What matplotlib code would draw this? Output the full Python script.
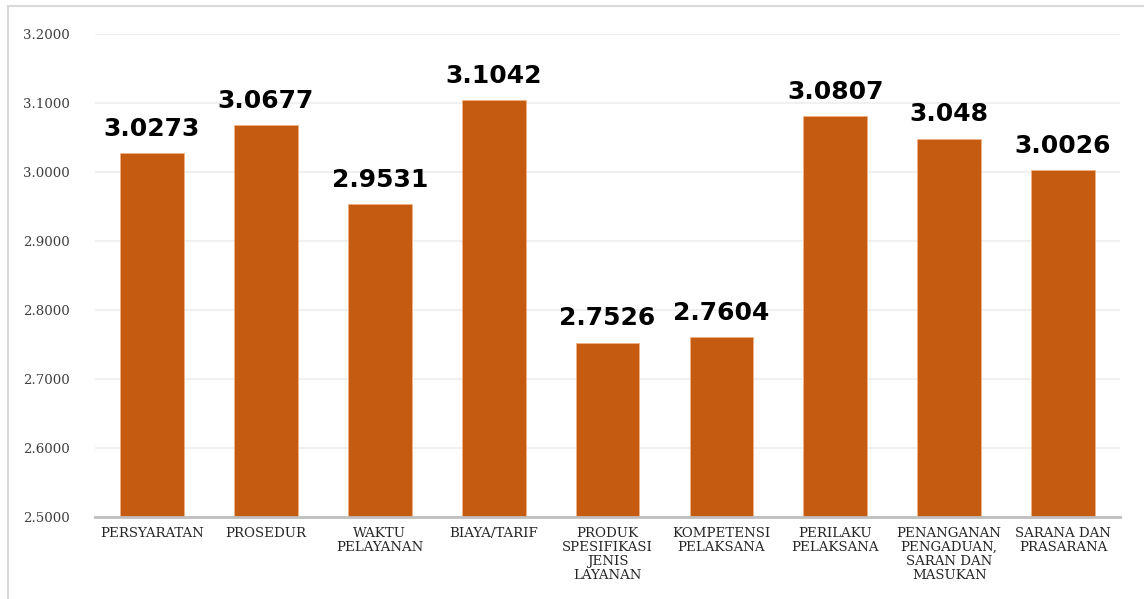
import matplotlib
matplotlib.use("Agg")
import matplotlib.pyplot as plt
from matplotlib.lines import Line2D

categories = ["PERSYARATAN", "PROSEDUR", "WAKTU\nPELAYANAN", "BIAYA/TARIF",
              "PRODUK\nSPESIFIKASI\nJENIS\nLAYANAN", "KOMPETENSI\nPELAKSANA",
              "PERILAKU\nPELAKSANA", "PENANGANAN\nPENGADUAN,\nSARAN DAN\nMASUKAN",
              "SARANA DAN\nPRASARANA"]
values = [3.0273, 3.0677, 2.9531, 3.1042, 2.7526, 2.7604, 3.0807, 3.048, 3.0026]
value_labels = ["3.0273", "3.0677", "2.9531", "3.1042", "2.7526", "2.7604", "3.0807", "3.048", "3.0026"]
yticks = [2.5, 2.6, 2.7, 2.8, 2.9, 3.0, 3.1, 3.2]

W, H = 1144, 599
fig = plt.figure(figsize=(W / 100, H / 100), dpi=100)
ax = fig.add_axes([95 / W, 1 - 517 / H, (1120 - 95) / W, (517 - 34) / H])

x = list(range(len(categories)))
ax.bar(x, values, width=0.56, color="#C55A11", edgecolor="#F4B183", linewidth=0.6, zorder=3)
ax.set_xlim(-0.5, len(categories) - 0.5)
ax.set_ylim(2.5, 3.2)
ax.set_yticks(yticks)
ax.set_yticklabels([f"{v:.4f}" for v in yticks], family="DejaVu Serif", fontsize=9.6, color="#404040")
ax.set_xticks(x)
ax.set_xticklabels(categories, family="DejaVu Serif", fontsize=9.6, color="#262626", linespacing=1.1)
ax.tick_params(axis="both", length=0)
ax.tick_params(axis="y", pad=18)
ax.tick_params(axis="x", pad=7)
ax.grid(axis="y", color="#F0F0F0", linewidth=1.5, zorder=0)
for s in ["top", "right", "left"]:
    ax.spines[s].set_visible(False)
ax.spines["bottom"].set_color("#BFBFBF")
ax.spines["bottom"].set_linewidth(2)
ax.spines["bottom"].set_zorder(4)

for xi, v, lab in zip(x, values, value_labels):
    ax.annotate(lab, (xi, v), xytext=(0, 9), textcoords="offset points",
                ha="center", va="bottom", fontsize=18, fontweight="bold",
                family="DejaVu Sans", color="black")

# outer frame (left and top edges visible)
fig.add_artist(Line2D([8 / W, 8 / W], [0, 1 - 6 / H], transform=fig.transFigure, color="#D9D9D9", linewidth=1.5))
fig.add_artist(Line2D([8 / W, 1], [1 - 6 / H, 1 - 6 / H], transform=fig.transFigure, color="#D9D9D9", linewidth=1.5))

fig.savefig("out.png", dpi=100)
